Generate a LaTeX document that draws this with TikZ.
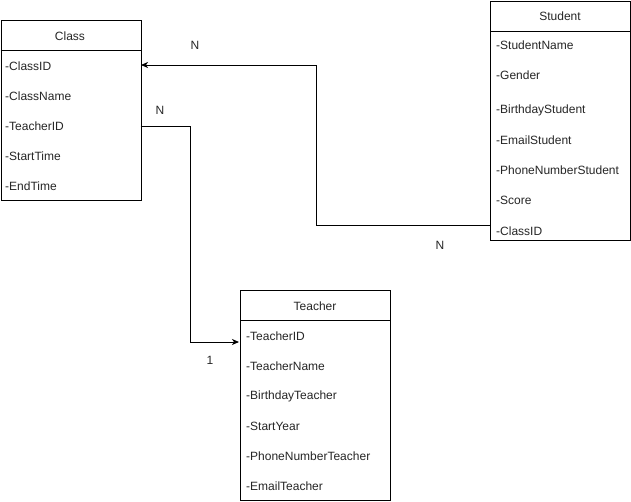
\documentclass[tikz,border=0pt]{standalone}
\usepackage{fontspec}
\setmainfont{Liberation Sans}
\usetikzlibrary{arrows.meta}
\begin{document}
\begin{tikzpicture}[x=1pt,y=-1pt,
  box/.style={draw=black, line width=0.9pt, fill=white, inner sep=0pt, anchor=north west},
  hdr/.style={font=\fontsize{12}{14}\selectfont, inner sep=0pt, text=black!85},
  row/.style={font=\fontsize{12}{14}\selectfont, inner sep=0pt, anchor=west, text=black!85},
  lbl/.style={font=\fontsize{12}{14}\selectfont, inner sep=0pt, text=black!85},
  conn/.style={draw=black, line width=0.9pt, -{Stealth[length=7pt,width=6pt,inset=2pt]}}]
\useasboundingbox (0,0) rectangle (631,501);
% Class
\node[box, minimum width=140pt, minimum height=180pt] (class) at (0.5,20) {};
\draw[line width=0.9pt] (0.5,50) -- (140.5,50);
\node[hdr] (classT) at (70,36) {Class};
\node[row] (cID) at (5,66) {-ClassID};
\node[row] (cName) at (5,96) {-ClassName};
\node[row] (cTID) at (5,126) {-TeacherID};
\node[row] (cST) at (5,156) {-StartTime};
\node[row] (cET) at (5,186) {-EndTime};
% Student
\node[box, minimum width=140pt, minimum height=239pt] (student) at (490,0.5) {};
\draw[line width=0.9pt] (490,31) -- (630,31);
\node[hdr] (studentT) at (560,16) {Student};
\node[row] (sName) at (496,45) {-StudentName};
\node[row] (sGender) at (496,75) {-Gender};
\node[row] (sBirth) at (496,110) {-BirthdayStudent};
\node[row] (sEmail) at (496,140) {-EmailStudent};
\node[row] (sPhone) at (496,170) {-PhoneNumberStudent};
\node[row] (sScore) at (496,200) {-Score};
\node[row] (sCID) at (496,231) {-ClassID};
% Teacher
\node[box, minimum width=150pt, minimum height=210pt] (teacher) at (240,290) {};
\draw[line width=0.9pt] (240,320) -- (390,320);
\node[hdr] (teacherT) at (315,306) {Teacher};
\node[row] (tID) at (246,336) {-TeacherID};
\node[row] (tName) at (246,366) {-TeacherName};
\node[row] (tBirth) at (246,396) {-BirthdayTeacher};
\node[row] (tSY) at (246,426) {-StartYear};
\node[row] (tPhone) at (246,456) {-PhoneNumberTeacher};
\node[row] (tEmail) at (246,486) {-EmailTeacher};
% connector points
\coordinate (sOut) at (490,225);
\coordinate (cIn) at (141,65);
\coordinate (cOut) at (140.5,126);
\coordinate (tIn) at (239,342);
\draw[conn] (sOut) -- (316,225) |- (cIn);
\draw[conn] (cOut) -- (190,126) |- (tIn);
% labels
\node[lbl] (n1) at (195,45) {N};
\node[lbl] (n2) at (440,245) {N};
\node[lbl] (n3) at (160,110) {N};
\node[lbl] (one) at (210,360) {1};
\end{tikzpicture}
\end{document}
